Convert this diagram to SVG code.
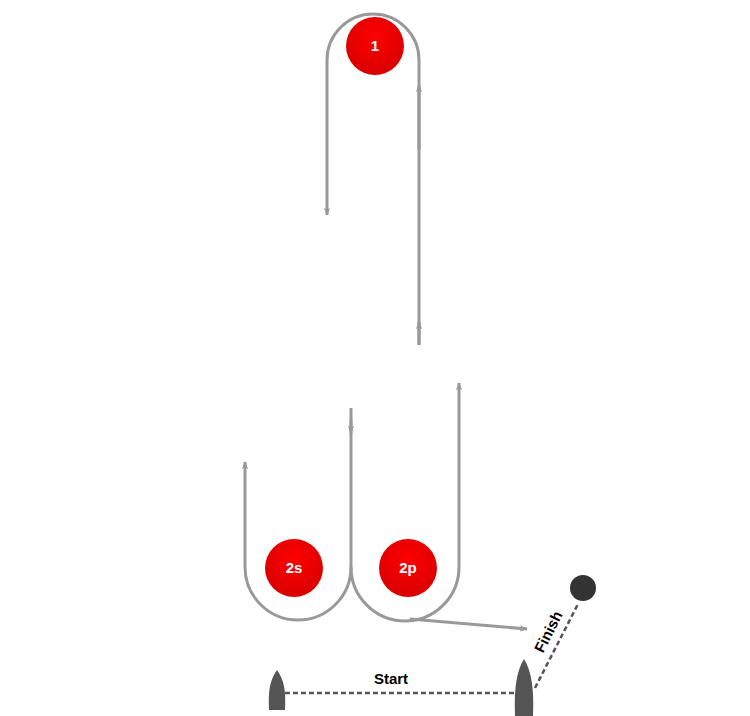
<svg xmlns="http://www.w3.org/2000/svg" width="750" height="716" viewBox="0 0 750 716">
<style>
.p{fill:none;stroke:#999;stroke-width:3}
.d{fill:none;stroke:#555;stroke-width:2.5;stroke-dasharray:5,3}
.t{font-family:"Liberation Sans",Arial,sans-serif;font-weight:bold;text-anchor:middle}
.w{fill:#fff;font-size:15px}
.boat{fill:#555}
</style>
<defs>
<radialGradient id="g" cx="50%" cy="35%" r="65%"><stop offset="0" stop-color="#f00"/><stop offset="1" stop-color="#d80000"/></radialGradient>
<marker id="a" viewBox="0 0 20 16" refX="18" refY="8" markerWidth="8" markerHeight="6.4" orient="auto" markerUnits="userSpaceOnUse"><path d="M0,0 L20,8 L0,16 L5,8 Z" fill="#999"/></marker>
</defs>
<g id="connectors">
<path class="p" d="M419,345 V60 A46,46 0 0 0 327,60 V215" marker-end="url(#a)"/>
<path class="p" d="M419,150 V85" marker-end="url(#a)"/>
<path class="p" d="M419,345 V322" marker-end="url(#a)"/>
<path class="p" d="M351,408 V433" marker-end="url(#a)"/>
<path class="p" d="M351,420 V567 A53,53 0 0 1 245,567 V462" marker-end="url(#a)"/>
<path class="p" d="M351,567 A54,54 0 0 0 459,567 V383" marker-end="url(#a)"/>
<path class="p" d="M410,619 L527,629" marker-end="url(#a)"/>
<path class="d" d="M285,693 H517"/>
<path class="d" d="M535,688 L578,604"/>
</g>
<g id="mark1"><circle cx="375" cy="46" r="29" fill="url(#g)"/><text class="t w" x="375" y="51">1</text></g>
<g id="mark2s"><circle cx="294" cy="568" r="29" fill="url(#g)"/><text class="t w" x="294" y="573">2s</text></g>
<g id="mark2p"><circle cx="408" cy="568" r="29" fill="url(#g)"/><text class="t w" x="408" y="573">2p</text></g>
<g id="finishbuoy"><circle cx="583" cy="588" r="13" fill="#333"/></g>
<g id="boatL"><path class="boat" d="M277,670 C284,680 286,690 285,710 H269 C268,690 270,680 277,670 Z"/></g>
<g id="boatR"><path class="boat" d="M524,659 C532,672 534,690 533,716 H515 C514,690 516,672 524,659 Z"/></g>
<g id="labels">
<text class="t" x="391" y="684" font-size="15">Start</text>
<text class="t" x="0" y="0" font-size="15" transform="translate(553,634) rotate(-63)">Finish</text>
</g>
</svg>
